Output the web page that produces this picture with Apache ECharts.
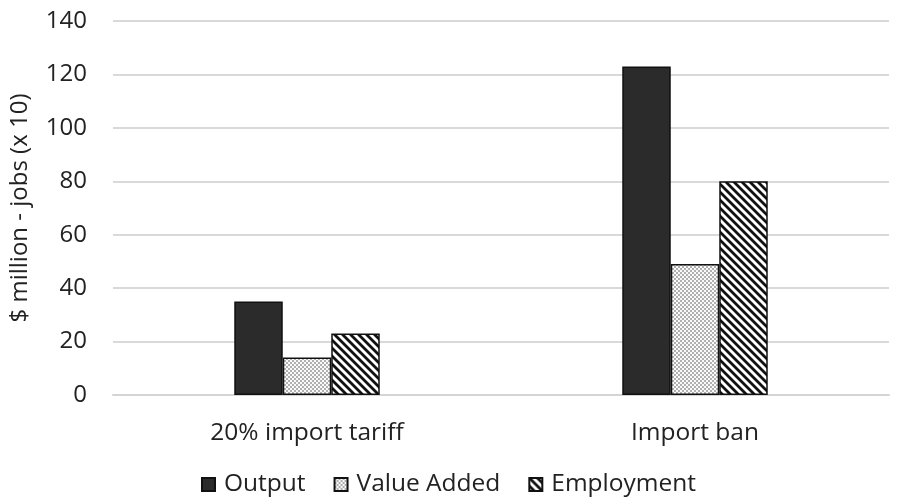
<!DOCTYPE html>
<html><head><meta charset="utf-8">
<script src="https://cdn.jsdelivr.net/npm/echarts@6/dist/echarts.min.js"></script>
<style>html,body{margin:0;padding:0;background:#fff}#c{width:897px;height:504px}</style>
</head><body><div id="c"></div>
<script>
const categories = ['20% import tariff', 'Import ban'];
const seriesNames = ['Output', 'Value Added', 'Employment'];
const outputVals = [35, 123];
const valueAddedVals = [14, 49];
const employmentVals = [23, 80];
const yTicks = [0, 20, 40, 60, 80, 100, 120, 140];

function stripePattern() {
  const c = document.createElement('canvas');
  c.width = 8; c.height = 8;
  const g = c.getContext('2d');
  g.fillStyle = '#fff'; g.fillRect(0, 0, 8, 8);
  g.strokeStyle = '#111'; g.lineWidth = 2.8;
  g.beginPath();
  for (let k = -8; k <= 16; k += 8) { g.moveTo(k - 2, -2); g.lineTo(k + 10, 10); }
  g.stroke();
  return c;
}
function dotPattern() {
  const c = document.createElement('canvas');
  c.width = 4; c.height = 4;
  const g = c.getContext('2d');
  g.fillStyle = '#fafafa'; g.fillRect(0, 0, 4, 4);
  g.fillStyle = '#b0b0b0';
  g.fillRect(0, 0, 2, 2); g.fillRect(2, 2, 2, 2);
  return c;
}
const fills = [
  '#2b2b2b',
  { image: dotPattern(), repeat: 'repeat' },
  { image: stripePattern(), repeat: 'repeat' }
];
const dataSets = [outputVals, valueAddedVals, employmentVals];
const font = 'Open Sans';
const chart = echarts.init(document.getElementById('c'));
chart.setOption({
  animation: false,
  grid: { left: 113, right: 8, top: 21, bottom: 109, containLabel: false, outerBoundsMode: 'none' },
  legend: {
    bottom: 2, left: 'center', itemWidth: 13, itemHeight: 13, itemGap: 28,
    icon: 'rect',
    textStyle: { fontFamily: font, fontSize: 24.5, color: '#222', padding: [0, 0, 0, 4] },
    data: seriesNames
  },
  xAxis: {
    type: 'category', data: categories,
    axisLine: { lineStyle: { color: '#d4d4d4', width: 2 } },
    axisTick: { show: false },
    axisLabel: { fontFamily: font, fontSize: 24.5, color: '#222', margin: 26 }
  },
  yAxis: {
    type: 'value', min: yTicks[0], max: yTicks[yTicks.length - 1], interval: 20,
    name: '$ million - jobs (x 10)', nameLocation: 'middle', nameGap: 81, nameRotate: 90,
    nameTextStyle: { fontFamily: font, fontSize: 24, color: '#222' },
    axisLine: { show: false }, axisTick: { show: false },
    splitLine: { lineStyle: { color: '#d9d9d9', width: 2 } },
    axisLabel: { fontFamily: font, fontSize: 24, color: '#222', margin: 26 }
  },
  series: seriesNames.map((n, i) => ({
    name: n, type: 'bar', data: dataSets[i],
    barGap: '0%', barCategoryGap: '62.5%',
    itemStyle: { color: fills[i], borderColor: '#111', borderWidth: 1.5 }
  }))
});
</script></body></html>
